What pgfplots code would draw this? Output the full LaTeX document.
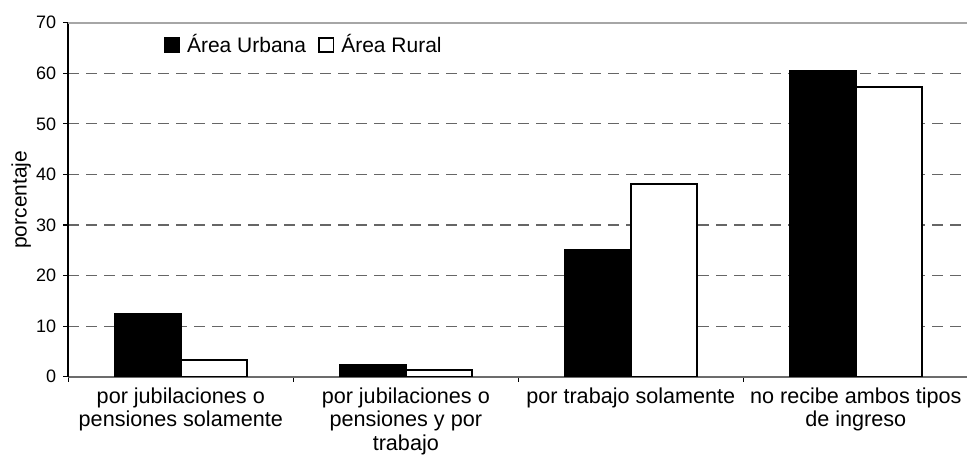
\documentclass[border=0pt]{standalone}
\usepackage{pgfplots}
\pgfplotsset{compat=1.18}
\usepackage{fontspec}
\setmainfont{Liberation Sans}
\begin{document}
\begin{tikzpicture}
\useasboundingbox (-34.15pt,-48.15pt) rectangle (449.35pt,188.35pt);
\begin{axis}[
  at={(0pt,0pt)}, anchor=south west,
  scale only axis, width=450pt, height=177pt,
  xmin=-0.5, xmax=3.5, ymin=0, ymax=70,
  ybar=0pt, bar width=33pt,
  axis x line*=bottom, axis y line*=left,
  x axis line style={draw=gray!85!black, line width=1pt},
  y axis line style={draw=black, line width=0.8pt},
  ytick={0,10,...,70},
  ymajorgrids,
  major grid style={dash pattern=on 5.5pt off 3.5pt, draw=gray!80!black, line width=0.6pt},
  extra y ticks={70}, extra y tick labels={},
  extra y tick style={grid=major, major grid style={solid, draw=gray!70, line width=1pt}, major tick length=0pt},
  tick align=outside,
  major tick length=2.5pt,
  minor tick length=2.5pt,
  xtick={0,1,2,3},
  minor xtick={-0.5,0.5,1.5,2.5},
  major x tick style={draw=none},
  every tick/.style={black, line width=0.6pt},
  xticklabels={{por jubilaciones o\\pensiones solamente},{por jubilaciones o\\pensiones y por\\trabajo},{por trabajo solamente},{no recibe ambos tipos\\de ingreso}},
  xticklabel style={align=center, anchor=north, font=\fontsize{10.8}{11.75}\selectfont, yshift=0.5pt},
  yticklabel style={font=\fontsize{9}{10}\selectfont},
  /pgf/number format/assume math mode=true,
  ylabel={porcentaje},
  ylabel style={at={(axis description cs:-0.0522,0.5)}, anchor=center, font=\fontsize{10.5}{12}\selectfont},
  legend columns=2,
  legend style={at={(axis description cs:0.099,0.937)}, anchor=west, draw=none, fill=none,
    font=\fontsize{10.5}{12}\selectfont, /tikz/every even column/.append style={column sep=4pt},
    /tikz/every odd column/.append style={column sep=1.5pt}},
  legend cell align=left,
]
\addplot[fill=black, draw=black, line width=0.8pt,
  legend image code/.code={\draw[fill=black, draw=black] (0pt,-3.6pt) rectangle (7.3pt,3.6pt);}]
  coordinates {(0,12.4) (1,2.4) (2,25.05) (3,60.5)};
\addlegendentry{Área Urbana}
\addplot[fill=white, draw=black, line width=1pt,
  legend image code/.code={\draw[fill=white, draw=black, line width=0.8pt] (0pt,-3.6pt) rectangle (7.3pt,3.6pt);}]
  coordinates {(0,3.4) (1,1.3) (2,38.2) (3,57.2)};
\addlegendentry{Área Rural}
\end{axis}
\end{tikzpicture}
\end{document}
